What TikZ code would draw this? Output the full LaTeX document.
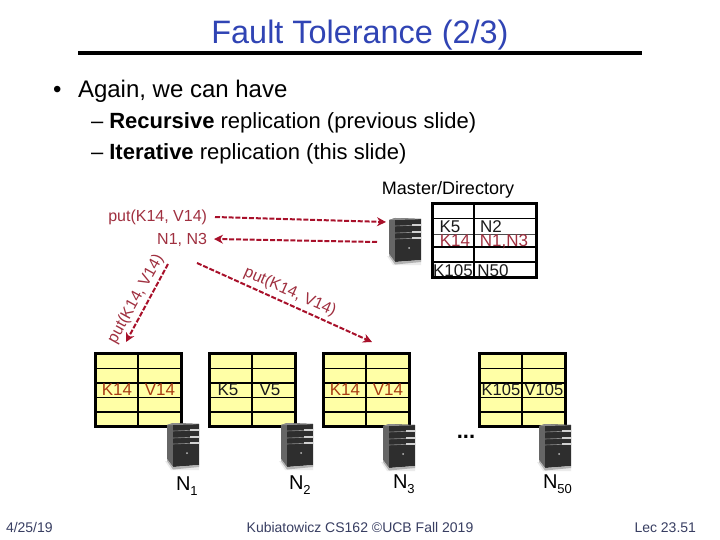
\documentclass[tikz,border=0pt]{standalone}
\usepackage{fontspec}
\setmainfont{Liberation Sans}
\usetikzlibrary{arrows.meta}
\definecolor{titleblue}{HTML}{3044B4}
\definecolor{putred}{HTML}{A8102A}
\definecolor{labred}{HTML}{A03040}
\definecolor{cellbrown}{HTML}{A83C14}
\definecolor{cellyellow}{HTML}{FFFFA6}
\definecolor{footblue}{HTML}{383E62}
\definecolor{dirtext}{HTML}{1A1A1A}
\newcommand{\fs}[1]{\fontsize{#1}{#1}\selectfont}
\tikzset{
  txt/.style={inner sep=0pt,outer sep=0pt,anchor=base},
  txtl/.style={txt,anchor=base west},
  txtr/.style={txt,anchor=base east},
  footer/.style={txt,text=footblue,font=\fs{14}},
  celltxt/.style={txt,font=\fs{17}},
  putline/.style={draw=putred,line width=2pt,dash pattern=on 5pt off 1.8pt},
  puthead/.style={putline,-{Stealth[length=9pt,width=9pt]}},
  kvtable/.pic={
    \fill[cellyellow] (0,0) rectangle (86,73);
    \foreach \yy in {15,29.5,44,58.5}{\draw[line width=1.8pt] (0,\yy) -- (86,\yy);}
    \draw[line width=1.8pt] (42.7,0) -- (42.7,73);
    \draw[line width=3pt] (0,0) rectangle (86,73);
  },
  server/.pic={
    \fill[black!8] (-2,38) -- (4,47) -- (32,47) -- (32,42) -- cycle;
    \fill[black!60] (0,2) -- (6,0) -- (6,44) -- (0,36) -- cycle;
    \fill[black!82] (6,0) -- (32,1) -- (32,42) -- (6,44) -- cycle;
    \fill[black!45] (0,2) -- (6,0) -- (32,1) -- (26,1.5) -- (6,2) -- cycle;
    \foreach \yy in {7,14,20}{
      \draw[black!45,line width=.6pt] (6,\yy+1) -- (32,\yy);
      \fill[black!18] (23,\yy-.6) rectangle (32,\yy+.6);
    }
    \fill[black!25] (20,30) circle (1);
    \fill[black!30] (0,36) -- (6,44) -- (32,42) -- (32,44) -- (6,46.5) -- (0,38) -- cycle;
  },
}
\begin{document}
\begin{tikzpicture}[x=1pt,y=-1pt]
\useasboundingbox[fill=white] (0,0) rectangle (720,540);
% heading
\node[txt,text=titleblue,font=\fs{32.4}] (title) at (360,44) {Fault Tolerance (2/3)};
\coordinate (ruleL) at (78,53.5);
\coordinate (ruleR) at (642,53.5);
\draw[line width=4pt] (ruleL) -- (ruleR);
\node[txtl,font=\fs{24}] (bul) at (53,98) {•};
\node[txtl,font=\fs{24}] (again) at (78,98) {Again, we can have};
\node[txtl,font=\fs{22}] (rec) at (91,129) {– \textbf{Recursive} replication (previous slide)};
\node[txtl,font=\fs{22}] (ite) at (91,160) {– \textbf{Iterative} replication (this slide)};
\node[txt,font=\fs{18}] (master) at (448,195) {Master/Directory};
% directory table
\fill[white] (432,204) rectangle (536,277);
\draw[line width=1.8pt] (432,218.5) -- (536,218.5) (432,247) -- (536,247) (432,262) -- (536,262);
\draw[line width=.8pt,black!70] (432,234.5) -- (536,234.5);
\draw[line width=1.8pt] (474,204) -- (474,277);
\draw[line width=3pt] (432,204) rectangle (536,277);
\node[celltxt,text=dirtext] (dk5) at (450,233) {K5};
\node[celltxt,text=dirtext] (dn2) at (491,233) {N2};
\node[celltxt,text=labred] (dk14) at (455,246) {K14};
\node[celltxt,text=labred] (dn13) at (504,246) {N1,N3};
\node[celltxt,text=dirtext] (dk105) at (453,276) {K105};
\node[celltxt,text=dirtext] (dn50) at (493,276) {N50};
% storage tables
\pic at (95.5,353.5) {kvtable};
\pic at (209.5,353.5) {kvtable};
\pic at (323.5,353.5) {kvtable};
\pic at (479.5,353.5) {kvtable};
\node[celltxt,text=cellbrown] (a1) at (117,395) {K14};
\node[celltxt,text=cellbrown] (a2) at (160,395) {V14};
\node[celltxt,text=dirtext] (b1) at (228,395) {K5};
\node[celltxt,text=dirtext] (b2) at (270,395) {V5};
\node[celltxt,text=cellbrown] (c1) at (345,395) {K14};
\node[celltxt,text=cellbrown] (c2) at (388,395) {V14};
\node[celltxt,text=dirtext,font=\fs{16.5}] (d1) at (501,395) {K105};
\node[celltxt,text=dirtext,font=\fs{16.5}] (d2) at (544,395) {V105};
% servers
\pic at (389,218) {server};
\pic at (167,423) {server};
\pic at (281,423) {server};
\pic at (383,424) {server};
\pic at (539,424) {server};
\node[txtl,font=\fs{20}] (n1) at (176,490) {N\raisebox{-.25em}{\fs{13}1}};
\node[txtl,font=\fs{20}] (n2) at (289,489) {N\raisebox{-.25em}{\fs{13}2}};
\node[txtl,font=\fs{20}] (n3) at (393,488) {N\raisebox{-.25em}{\fs{13}3}};
\node[txtl,font=\fs{20}] (n50) at (543,488) {N\raisebox{-.25em}{\fs{13}50}};
\node[txt,font=\bfseries\fs{22}] (dots) at (466,438) {...};
% messages
\node[txtr,text=labred,font=\fs{16}] (putA) at (207,222) {put(K14, V14)};
\node[txtr,text=labred,font=\fs{16}] (nn) at (207,244) {N1, N3};
\node[text=labred,font=\fs{16},inner sep=0pt,rotate=61] (putB) at (136,299) {put(K14, V14)};
\node[text=labred,font=\fs{16},inner sep=0pt,rotate=-24] (putC) at (290,292) {put(K14, V14)};
\coordinate (a0) at (215,217);
\coordinate (a9) at (386,222);
\coordinate (b0) at (377,242);
\coordinate (b9) at (214,239);
\coordinate (c0) at (168,264);
\coordinate (c9) at (126,342);
\coordinate (e0) at (197,263);
\coordinate (e9) at (372,342);
\draw[puthead] (a0) -- (a9);
\draw[puthead] (b0) -- (b9);
\draw[puthead] (c0) -- (c9);
\draw[puthead] (e0) -- (e9);
% footer
\node[footer,anchor=base west] (fa) at (6,532.5) {4/25/19};
\node[footer] (fb) at (360,532.5) {Kubiatowicz CS162 ©UCB Fall 2019};
\node[footer,anchor=base east] (fc) at (696,532.5) {Lec 23.51};
\end{tikzpicture}
\end{document}
